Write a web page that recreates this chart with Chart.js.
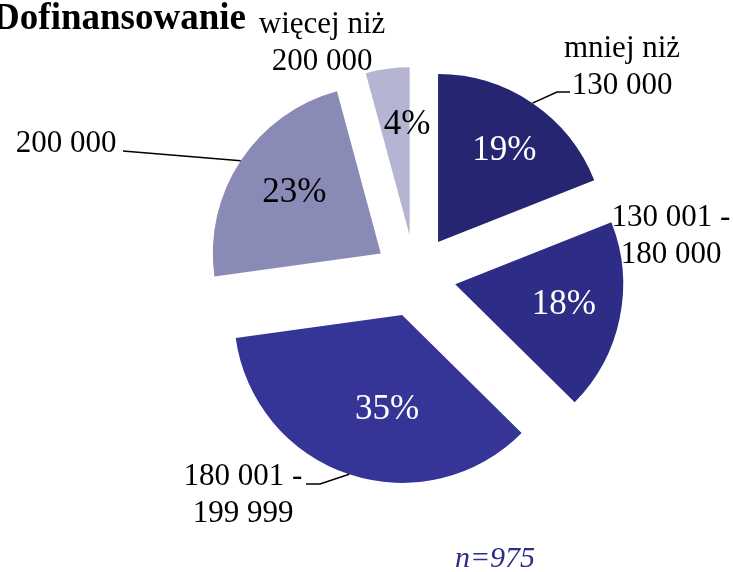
<!DOCTYPE html>
<html lang="pl">
<head>
  <meta charset="UTF-8">
  <title>Dofinansowanie</title>
  <script src="https://cdn.jsdelivr.net/npm/chart.js"></script>
  <style>
    html, body {
      margin: 0;
      padding: 0;
      background: #fff;
    }
    .wrap {
      width: 733px;
      height: 572px;
    }
  </style>
</head>
<body>
  <div class="wrap"><canvas id="pie" width="733" height="572"></canvas></div>

  <script>
    // data
    const categories = [['mniej niż', '130 000'], ['130 001 -', '180 000'], ['180 001 -', '199 999'], ['200 000'], ['więcej niż', '200 000']];
    const shares = [19.0, 18.4, 35.4, 23.0, 4.2];
    const sampleSize = 975;

    // look
    const sliceColors = ['#252571', '#2d2d87', '#353598', '#8a8ab7', '#b5b5d3'];
    const pctColors = ['#ffffff', '#ffffff', '#ffffff', '#000000', '#000000'];
    const EXPLODE = 41;
    const SERIF = '"Liberation Serif", "Times New Roman", serif';

    // where the category names sit (baseline of first line), and the elbows of leader lines
    const labelSpots = [
      { x: 622, y: 57, leader: [[557, 92], [570, 92]] },
      { x: 671, y: 226 },
      { x: 243, y: 485, leader: [[320, 484], [306, 484]] },
      { x: 66, y: 152, leader: [[123, 151]] },
      { x: 322, y: 33 }
    ];
    const pctNudge = [[4, 0], [0, -2], [20, -10], [6, 1], [12, -1]];

    function midDir(arc) {
      const mid = (arc.startAngle + arc.endAngle) / 2;
      return [Math.cos(mid), Math.sin(mid)];
    }

    // pull each slice out along its bisector, then let the arc draw itself
    const explode = {
      id: 'explode',
      beforeDatasetDraw(chart, args) {
        const ctx = chart.ctx;
        args.meta.data.forEach(arc => {
          const [dx, dy] = midDir(arc);
          ctx.save();
          ctx.translate(dx * EXPLODE, dy * EXPLODE);
          arc.draw(ctx);
          ctx.restore();
        });
        return false;
      }
    };

    const labels = {
      id: 'labels',
      afterDraw(chart) {
        const ctx = chart.ctx;
        const arcs = chart.getDatasetMeta(0).data;
        ctx.save();

        arcs.forEach((arc, i) => {
          const [dx, dy] = midDir(arc);
          const ax = arc.x + dx * EXPLODE;
          const ay = arc.y + dy * EXPLODE;
          const r = arc.outerRadius;

          // percent inside the slice
          ctx.font = '35px ' + SERIF;
          ctx.textAlign = 'center';
          ctx.textBaseline = 'middle';
          ctx.fillStyle = pctColors[i];
          ctx.fillText(Math.round(shares[i]) + '%', ax + dx * r * 0.66 + pctNudge[i][0], ay + dy * r * 0.66 + pctNudge[i][1]);

          // category name outside
          const spot = labelSpots[i];
          ctx.font = '31px ' + SERIF;
          ctx.textBaseline = 'alphabetic';
          ctx.fillStyle = '#000';
          categories[i].forEach((line, k) => ctx.fillText(line, spot.x, spot.y + k * 37));

          if (spot.leader) {
            ctx.beginPath();
            ctx.moveTo(ax + dx * r, ay + dy * r);
            spot.leader.forEach(p => ctx.lineTo(p[0], p[1]));
            ctx.strokeStyle = '#000';
            ctx.lineWidth = 1.6;
            ctx.stroke();
          }
        });

        ctx.font = 'bold 37px ' + SERIF;
        ctx.textAlign = 'right';
        ctx.fillStyle = '#000';
        ctx.fillText('Dofinansowanie', 246, 29);

        ctx.font = 'italic 30px ' + SERIF;
        ctx.textAlign = 'center';
        ctx.fillStyle = '#2d2d8a';
        ctx.fillText('n=' + sampleSize, 495, 567);

        ctx.restore();
      }
    };

    new Chart(document.getElementById('pie'), {
      type: 'pie',
      data: {
        labels: categories.map(c => c.join(' ')),
        datasets: [{
          data: shares,
          backgroundColor: sliceColors,
          borderWidth: 0,
          offset: 0
        }]
      },
      options: {
        responsive: false,
        animation: false,
        radius: 168,
        layout: { padding: { left: 97, right: 0, top: 0, bottom: 20 } },
        plugins: {
          legend: { display: false },
          tooltip: { enabled: false },
          title: { display: false }
        }
      },
      plugins: [explode, labels]
    });
  </script>
</body>
</html>
